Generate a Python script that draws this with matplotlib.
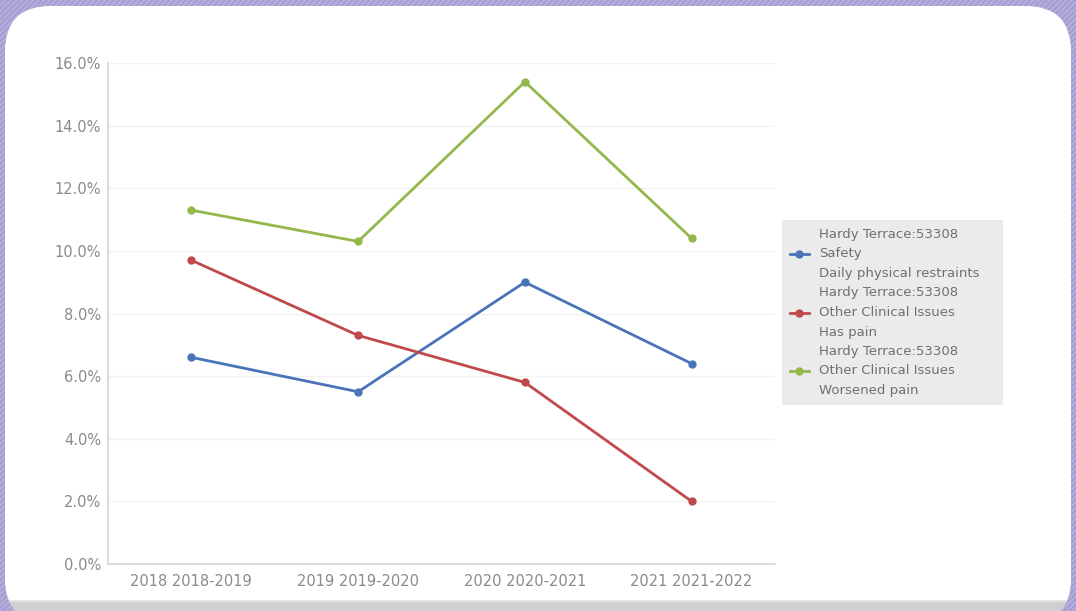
import matplotlib
matplotlib.use("Agg")
import matplotlib.pyplot as plt
from matplotlib.patches import FancyBboxPatch, Rectangle
from matplotlib.ticker import FuncFormatter

categories = ["2018 2018-2019", "2019 2019-2020", "2020 2020-2021", "2021 2021-2022"]
safety_restraints = [6.6, 5.5, 9.0, 6.4]
has_pain = [9.7, 7.3, 5.8, 2.0]
worsened_pain = [11.3, 10.3, 15.4, 10.4]
series_labels = [
    "Hardy Terrace:53308\nSafety\nDaily physical restraints",
    "Hardy Terrace:53308\nOther Clinical Issues\nHas pain",
    "Hardy Terrace:53308\nOther Clinical Issues\nWorsened pain",
]
colors = ["#4a74b8", "#c0494b", "#93b84c"]

W, H = 1076, 611
fig = plt.figure(figsize=(W / 100, H / 100), dpi=100)

# background decoration
bg = fig.add_axes([0, 0, 1, 1], zorder=0)
bg.set_xlim(0, W)
bg.set_ylim(H, 0)
bg.axis("off")
plt.rcParams["hatch.linewidth"] = 1.0
bg.add_patch(Rectangle((0, 0), W, H, facecolor="#a49ed3", edgecolor="#b9b4df",
                       hatch="//////", lw=0))
panel = FancyBboxPatch((5, 6), 1066, 618, boxstyle="round,pad=0,rounding_size=46",
                       facecolor="#cfcfcf", edgecolor="none")
bg.add_patch(panel)
white = Rectangle((0, 0), W, 600, facecolor="white", edgecolor="none")
bg.add_patch(white)
white.set_clip_path(panel)
line = Rectangle((0, 600), W, 2, facecolor="#e4e4e4", edgecolor="none")
bg.add_patch(line)
line.set_clip_path(panel)
# legend box background
bg.add_patch(Rectangle((782, 220), 221, 185, facecolor="#ebebeb", edgecolor="none"))

# main chart
ax = fig.add_axes([108 / W, (H - 564) / H, (775 - 108) / W, (564 - 63) / H], zorder=1)
ax.patch.set_alpha(0)
x = range(len(categories))
for vals, c, lab in zip([safety_restraints, has_pain, worsened_pain], colors, series_labels):
    ax.plot(x, vals, color=c, lw=2.0, marker="o", ms=5, label=lab)

ax.set_xlim(-0.5, len(categories) - 0.5)
ax.set_ylim(0, 16)
ax.set_yticks([0, 2, 4, 6, 8, 10, 12, 14, 16])
ax.yaxis.set_major_formatter(FuncFormatter(lambda v, p: f"{v:.1f}%"))
ax.set_xticks(list(x))
ax.set_xticklabels(categories)
ax.tick_params(length=0, colors="#8a8a8a", labelsize=10.5, pad=7)
ax.tick_params(axis="y", pad=5)
ax.grid(axis="y", color="#f2f2f2", lw=1)
ax.set_axisbelow(True)
for s in ["top", "right"]:
    ax.spines[s].set_visible(False)
for s in ["left", "bottom"]:
    ax.spines[s].set_color("#d4d4d4")
    ax.spines[s].set_linewidth(1.2)

leg = ax.legend(loc="upper left", bbox_to_anchor=(783 / W, (H - 221) / H),
                bbox_transform=fig.transFigure, frameon=False,
                fontsize=9.5, labelspacing=0.45, handlelength=1.5, handletextpad=0.7,
                borderpad=0.5, borderaxespad=0)
for t in leg.get_texts():
    t.set_color("#707070")
    t.set_linespacing(1.68)

fig.savefig("out.png", dpi=100)
